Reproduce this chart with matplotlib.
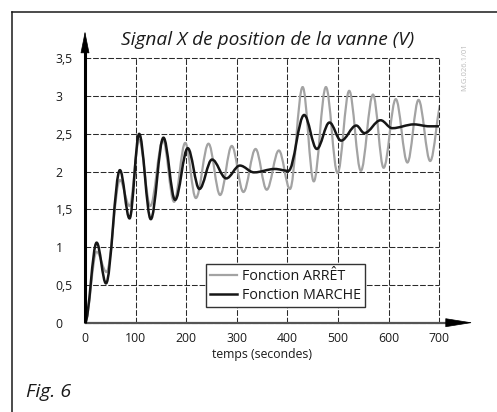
import matplotlib
matplotlib.use("Agg")
import matplotlib.pyplot as plt
from matplotlib.path import Path
from matplotlib.patches import PathPatch
from matplotlib.lines import Line2D

plt.rcParams['font.family'] = ['Open Sans', 'DejaVu Sans']

# ---- data (extrema) ----
marche_t = [0, 23, 41.5, 69, 88, 107, 130, 155, 178, 203, 226, 251, 279, 306,
            334, 375, 402, 433, 458, 483, 506, 536, 552, 584, 607, 650, 680, 700]
marche_y = [0.0, 1.06, 0.52, 2.02, 1.38, 2.50, 1.37, 2.45, 1.625, 2.31, 1.77, 2.16,
            1.91, 2.08, 1.99, 2.035, 2.01, 2.75, 2.30, 2.65, 2.41, 2.61, 2.51, 2.68,
            2.575, 2.625, 2.60, 2.60]

arret_t = [0, 23, 42.5, 69, 88, 107, 129, 154, 176, 198, 219, 244, 267, 290, 313,
           337, 359, 383, 405, 430, 452, 476, 499, 522, 545, 569, 590, 614, 637,
           659, 682, 705]
arret_y = [0.0, 0.94, 0.67, 1.89, 1.545, 2.42, 1.545, 2.42, 1.60, 2.38, 1.65, 2.37,
           1.69, 2.34, 1.73, 2.30, 1.76, 2.28, 1.77, 3.12, 1.87, 3.12, 1.98, 3.07,
           2.01, 3.02, 2.05, 2.96, 2.12, 2.95, 2.14, 2.93]

x_ticks = [0, 100, 200, 300, 400, 500, 600, 700]
y_ticks = [0, 0.5, 1, 1.5, 2, 2.5, 3, 3.5]
y_tick_labels = ["0", "0,5", "1", "1,5", "2", "2,5", "3", "3,5"]

title = "Signal X de position de la vanne (V)"
x_label = "temps (secondes)"
series_names = ["Fonction ARRÊT", "Fonction MARCHE"]
fig_label = "Fig. 6"
ref_code = "M.G.026.1/01"

GRAY = "#a3a3a3"
BLACK = "#161616"

W, H = 497, 412
fig = plt.figure(figsize=(W / 100, H / 100), dpi=100)
ax = fig.add_axes([85 / W, (H - 322.7) / H, 354.3 / W, 264.4 / H])
ax.set_xlim(0, 700)
ax.set_ylim(0, 3.5)


def smooth_path(t, y, k=0.36):
    verts = [(t[0], y[0])]
    codes = [Path.MOVETO]
    for i in range(len(t) - 1):
        dt = t[i + 1] - t[i]
        verts += [(t[i] + k * dt, y[i]), (t[i + 1] - k * dt, y[i + 1]), (t[i + 1], y[i + 1])]
        codes += [Path.CURVE4] * 3
    return Path(verts, codes)


ax.add_patch(PathPatch(smooth_path(arret_t, arret_y), fill=False, edgecolor=GRAY,
                       lw=1.6, zorder=3, capstyle='round', joinstyle='round'))
ax.add_patch(PathPatch(smooth_path(marche_t, marche_y), fill=False, edgecolor=BLACK,
                       lw=1.8, zorder=4, capstyle='round', joinstyle='round'))

# grid
ax.set_xticks(x_ticks)
ax.set_yticks(y_ticks)
ax.set_yticklabels(y_tick_labels)
ax.grid(True, color="#2a2a2a", lw=0.75, dashes=(5.5, 1.8))
for g in ax.get_xgridlines() + ax.get_ygridlines():
    g.set_clip_on(False)
ax.set_axisbelow(True)
ax.tick_params(length=0, labelsize=8.8, colors="#1a1a1a")
ax.tick_params(axis='x', pad=7)
ax.tick_params(axis='y', pad=21)
for lbl in ax.get_yticklabels():
    lbl.set_horizontalalignment('left')
for s in ax.spines.values():
    s.set_visible(False)
ax.set_xlabel(x_label, fontsize=8.8, labelpad=2, color="#1a1a1a")

# axes with arrows
ax.plot([0, 1.03], [0, 0], transform=ax.transAxes, color="#555555", lw=1.6,
        clip_on=False, zorder=5, solid_capstyle='butt')
ax.annotate('', xy=(1.095, 0), xytext=(1.02, 0), xycoords='axes fraction',
            arrowprops=dict(arrowstyle='-|>,head_length=1.0,head_width=0.16',
                            mutation_scale=18, color='black', lw=0.5,
                            shrinkA=0, shrinkB=0), annotation_clip=False, zorder=6)
ax.plot([0, 0], [0, 1.03], transform=ax.transAxes, color="black", lw=2.2,
        clip_on=False, zorder=6, solid_capstyle='butt')
ax.annotate('', xy=(0, 1.103), xytext=(0, 1.0), xycoords='axes fraction',
            arrowprops=dict(arrowstyle='-|>,head_length=0.8,head_width=0.16',
                            mutation_scale=18, color='black', lw=0.5,
                            shrinkA=0, shrinkB=0), annotation_clip=False, zorder=6)

# legend
handles = [Line2D([], [], color=GRAY, lw=1.6), Line2D([], [], color=BLACK, lw=1.8)]
leg = ax.legend(handles, series_names, loc='upper left',
                bbox_to_anchor=(206 / W, 1 - 264.3 / H), bbox_transform=fig.transFigure,
                borderaxespad=0, fontsize=10.3, handlelength=1.85, handletextpad=0.35,
                borderpad=0.3, labelspacing=0.3, fancybox=False, framealpha=1,
                edgecolor="#333333")
leg.get_frame().set_linewidth(1.0)
leg.set_zorder(7)
for t in leg.get_texts():
    t.set_color("#1a1a1a")

# title and labels
fig.text(268 / W, 1 - 40 / H, title, ha='center', va='center', fontsize=13.8,
         style='italic', color="#1a1a1a")
fig.text(26 / W, 1 - 392 / H, fig_label, ha='left', va='center', fontsize=14,
         style='italic', color="#1a1a1a")
fig.text(465 / W, 1 - 67.5 / H, ref_code, ha='center', va='center', fontsize=5.5,
         rotation=90, color="#bbbbbb")

# frame
fig.add_artist(Line2D([12 / W, 12 / W], [0, 1 - 12 / H], transform=fig.transFigure,
                      color='#1a1a1a', lw=1.1))
fig.add_artist(Line2D([12 / W, 1], [1 - 12 / H, 1 - 12 / H], transform=fig.transFigure,
                      color='#1a1a1a', lw=1.1))

fig.savefig("out.png", dpi=100)
